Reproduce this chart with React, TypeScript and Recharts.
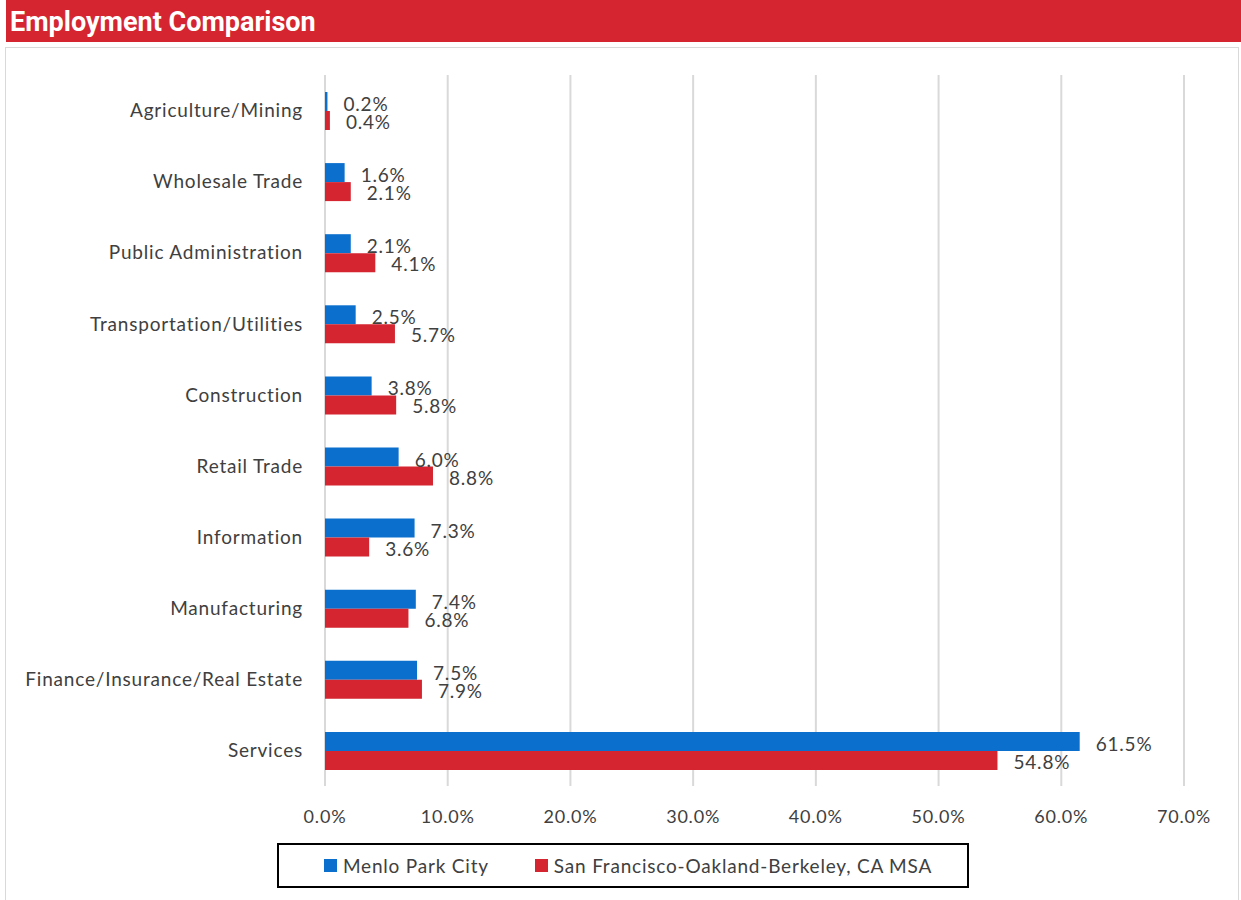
import { BarChart, Bar, XAxis, YAxis, CartesianGrid, LabelList } from "recharts";

const categories = [
  "Agriculture/Mining",
  "Wholesale Trade",
  "Public Administration",
  "Transportation/Utilities",
  "Construction",
  "Retail Trade",
  "Information",
  "Manufacturing",
  "Finance/Insurance/Real Estate",
  "Services",
];
const menloPark = [0.2, 1.6, 2.1, 2.5, 3.8, 6.0, 7.3, 7.4, 7.5, 61.5];
const sfMsa = [0.4, 2.1, 4.1, 5.7, 5.8, 8.8, 3.6, 6.8, 7.9, 54.8];
const xTicks = [0, 10, 20, 30, 40, 50, 60, 70];

const BLUE = "#0a6fcd";
const RED = "#d42530";
const TEXT = "#404040";
const FONT = "Lato, 'DejaVu Sans', sans-serif";
const SPACING = 0.8;

const chartData = categories.map((name, i) => ({
  name,
  menlo: menloPark[i],
  msa: sfMsa[i],
}));

const pct = (v: number) => `${Number(v).toFixed(1)}%`;

function makeLabel(dy: number) {
  return (props: any) => {
    const { x, y, width, height, value } = props;
    return (
      <text
        x={Number(x) + Number(width) + 16}
        y={Number(y) + Number(height) / 2 + dy}
        fill={TEXT}
        fontSize={19}
        fontFamily={FONT}
        letterSpacing={SPACING}
        dominantBaseline="central"
      >
        {pct(value)}
      </text>
    );
  };
}

function LegendBox() {
  const item = (color: string, label: string, gap: number) => (
    <span style={{ display: "inline-flex", alignItems: "center", marginRight: gap }}>
      <span style={{ width: 13, height: 13, background: color, display: "inline-block", marginRight: 6 }} />
      <span style={{ color: TEXT, fontSize: 19, fontFamily: FONT, letterSpacing: SPACING }}>{label}</span>
    </span>
  );
  return (
    <div
      style={{
        position: "absolute",
        left: 277,
        top: 843,
        width: 692,
        height: 45,
        border: "2px solid #000",
        display: "flex",
        alignItems: "center",
        justifyContent: "center",
        boxSizing: "border-box",
        paddingLeft: 10,
      }}
    >
      {item(BLUE, "Menlo Park City", 46)}
      {item(RED, "San Francisco-Oakland-Berkeley, CA MSA", 0)}
    </div>
  );
}

export default function App() {
  return (
    <div style={{ position: "absolute", left: 0, top: 0, width: 1241, height: 900, background: "#fff", overflow: "hidden" }}>
      <div
        style={{
          position: "absolute",
          left: 6,
          top: 0,
          width: 1235,
          height: 42,
          background: RED,
          color: "#fff",
          fontFamily: "Roboto, sans-serif",
          fontWeight: 700,
          fontSize: 27,
          lineHeight: "44px",
          paddingLeft: 4,
          boxSizing: "border-box",
        }}
      >
        Employment Comparison
      </div>
      <div
        style={{
          position: "absolute",
          left: 5,
          top: 47,
          width: 1232,
          height: 870,
          border: "1px solid #d9d9d9",
        }}
      />
      <div style={{ position: "absolute", left: 0, top: 0 }}>
        <BarChart
          width={1241}
          height={900}
          data={chartData}
          layout="vertical"
          margin={{ top: 75, right: 57, bottom: 84, left: 0 }}
          barSize={19}
          barGap={0}
        >
          <CartesianGrid horizontal={false} stroke="#d9d9d9" strokeWidth={2} />
          <XAxis
            type="number"
            domain={[0, 70]}
            ticks={xTicks}
            tickFormatter={pct}
            axisLine={false}
            tickLine={false}
            height={30}
            tickMargin={18}
            tick={{ fill: TEXT, fontSize: 18, fontFamily: FONT, letterSpacing: SPACING }}
          />
          <YAxis
            type="category"
            dataKey="name"
            width={325}
            axisLine={false}
            tickLine={false}
            tickMargin={16}
            tick={{ fill: TEXT, fontSize: 19, fontFamily: FONT, letterSpacing: SPACING }}
          />
          <Bar dataKey="menlo" name="Menlo Park City" fill={BLUE} isAnimationActive={false}>
            <LabelList dataKey="menlo" content={makeLabel(2)} />
          </Bar>
          <Bar dataKey="msa" name="San Francisco-Oakland-Berkeley, CA MSA" fill={RED} isAnimationActive={false}>
            <LabelList dataKey="msa" content={makeLabel(1)} />
          </Bar>
        </BarChart>
      </div>
      <LegendBox />
    </div>
  );
}
